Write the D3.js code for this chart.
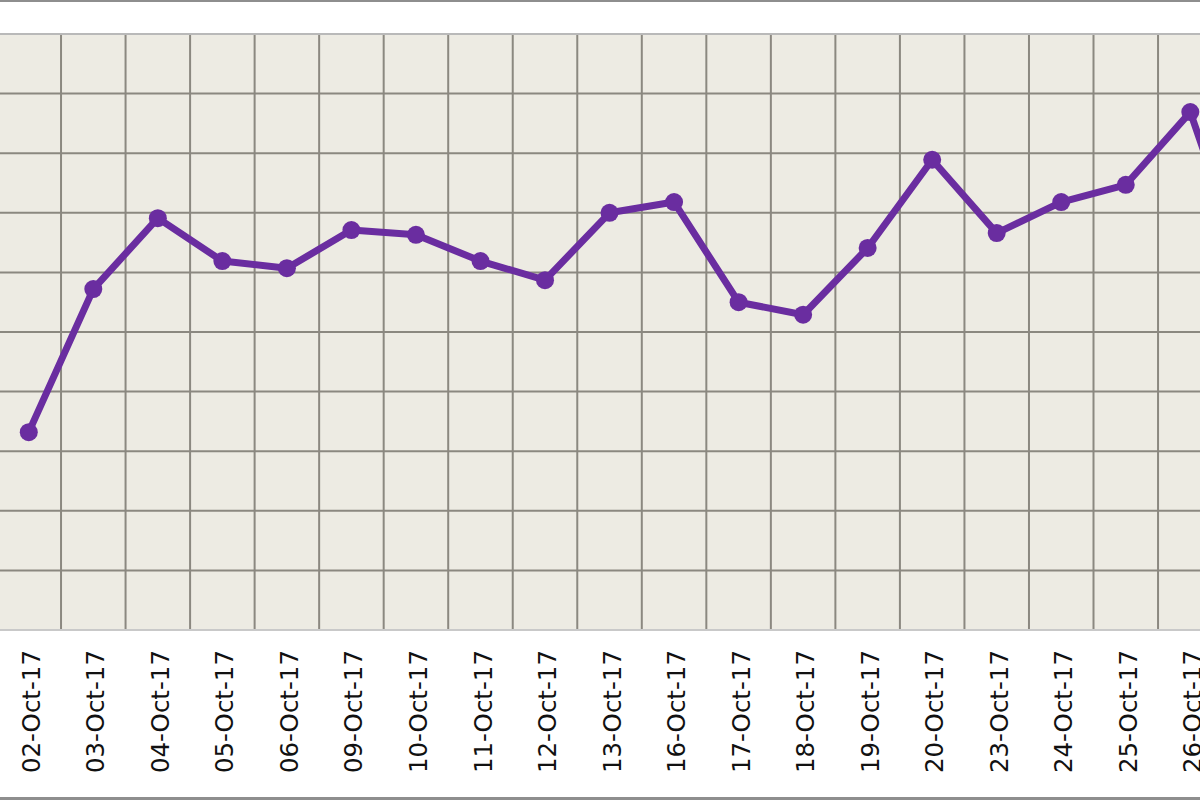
<!DOCTYPE html>
<html>
<head>
<meta charset="utf-8">
<script src="https://cdn.jsdelivr.net/npm/d3@7"></script>
<style>
  body { margin: 0; background: #fff; }
  svg { display: block; }
</style>
</head>
<body>
<div id="chart"></div>
<script>
// dates on the x axis (27-Oct-17 sits just off the right edge)
var dates = ["02-Oct-17", "03-Oct-17", "04-Oct-17", "05-Oct-17", "06-Oct-17",
             "09-Oct-17", "10-Oct-17", "11-Oct-17", "12-Oct-17", "13-Oct-17",
             "16-Oct-17", "17-Oct-17", "18-Oct-17", "19-Oct-17", "20-Oct-17",
             "23-Oct-17", "24-Oct-17", "25-Oct-17", "26-Oct-17", "27-Oct-17"];
var values = [3.32, 5.72, 6.91, 6.19, 6.07,
              6.71, 6.63, 6.19, 5.87, 7.00,
              7.18, 5.50, 5.29, 6.41, 7.89,
              6.66, 7.18, 7.47, 8.69, 5.54];
var yTicks = [0, 1, 2, 3, 4, 5, 6, 7, 8, 9, 10];

var width = 1200, height = 800;
var plotTop = 34, plotBottom = 630;
var step = 64.53;

var svg = d3.select("#chart")
    .append("svg")
    .attr("width", width)
    .attr("height", height);

var x = d3.scaleBand()
    .domain(dates)
    .range([-3.5, -3.5 + step * dates.length])
    .padding(0);

var y = d3.scaleLinear()
    .domain([0, 10])
    .range([plotBottom, plotTop]);

// frame line at top and bottom
svg.append("rect")
    .attr("x", 0).attr("y", 0)
    .attr("width", width).attr("height", 2)
    .attr("fill", "#8e8e8e");
svg.append("rect")
    .attr("x", 0).attr("y", 797)
    .attr("width", width).attr("height", 3)
    .attr("fill", "#8e8e8e");

// plot background
svg.append("rect")
    .attr("x", 0).attr("y", plotTop)
    .attr("width", width).attr("height", plotBottom - plotTop)
    .attr("fill", "#edebe3");

// horizontal grid
svg.selectAll(".hgrid")
    .data(yTicks.filter(function(d) { return d > 0 && d < 10; }))
    .enter()
    .append("line")
    .attr("class", "hgrid")
    .attr("x1", 0).attr("x2", width)
    .attr("y1", function(d) { return y(d); })
    .attr("y2", function(d) { return y(d); })
    .attr("stroke", "#8b8880")
    .attr("stroke-width", 2);

// vertical grid on band edges
svg.selectAll(".vgrid")
    .data(dates.slice(1))
    .enter()
    .append("line")
    .attr("class", "vgrid")
    .attr("x1", function(d) { return x(d); })
    .attr("x2", function(d) { return x(d); })
    .attr("y1", plotTop).attr("y2", plotBottom)
    .attr("stroke", "#8b8880")
    .attr("stroke-width", 2);

// plot border lines (lighter)
svg.append("line")
    .attr("x1", 0).attr("x2", width)
    .attr("y1", plotTop).attr("y2", plotTop)
    .attr("stroke", "#b9b9b9").attr("stroke-width", 2);
svg.append("line")
    .attr("x1", 0).attr("x2", width)
    .attr("y1", plotBottom).attr("y2", plotBottom)
    .attr("stroke", "#c9c9c9").attr("stroke-width", 2);

// x axis labels
var xAxis = d3.axisBottom(x).tickSize(0).tickPadding(0);
var gx = svg.append("g")
    .attr("transform", "translate(0," + plotBottom + ")")
    .call(xAxis);
gx.select(".domain").remove();
gx.selectAll("text")
    .attr("transform", "rotate(-90)")
    .attr("x", -20)
    .attr("y", 0)
    .attr("dy", "0.45em")
    .style("text-anchor", "end")
    .style("font-family", "'DejaVu Sans', Verdana, sans-serif")
    .style("font-size", "24.5px")
    .attr("fill", "#111");

// line + markers
var cx = function(d, i) { return x(dates[i]) + x.bandwidth() / 2; };

var line = d3.line()
    .x(function(d, i) { return cx(d, i); })
    .y(function(d) { return y(d); });

svg.append("path")
    .datum(values)
    .attr("d", line)
    .attr("fill", "none")
    .attr("stroke", "#6a2da0")
    .attr("stroke-width", 7)
    .attr("stroke-linejoin", "round");

svg.selectAll(".dot")
    .data(values)
    .enter()
    .append("circle")
    .attr("class", "dot")
    .attr("cx", function(d, i) { return cx(d, i); })
    .attr("cy", function(d) { return y(d); })
    .attr("r", 9)
    .attr("fill", "#6a2da0");
</script>
</body>
</html>
